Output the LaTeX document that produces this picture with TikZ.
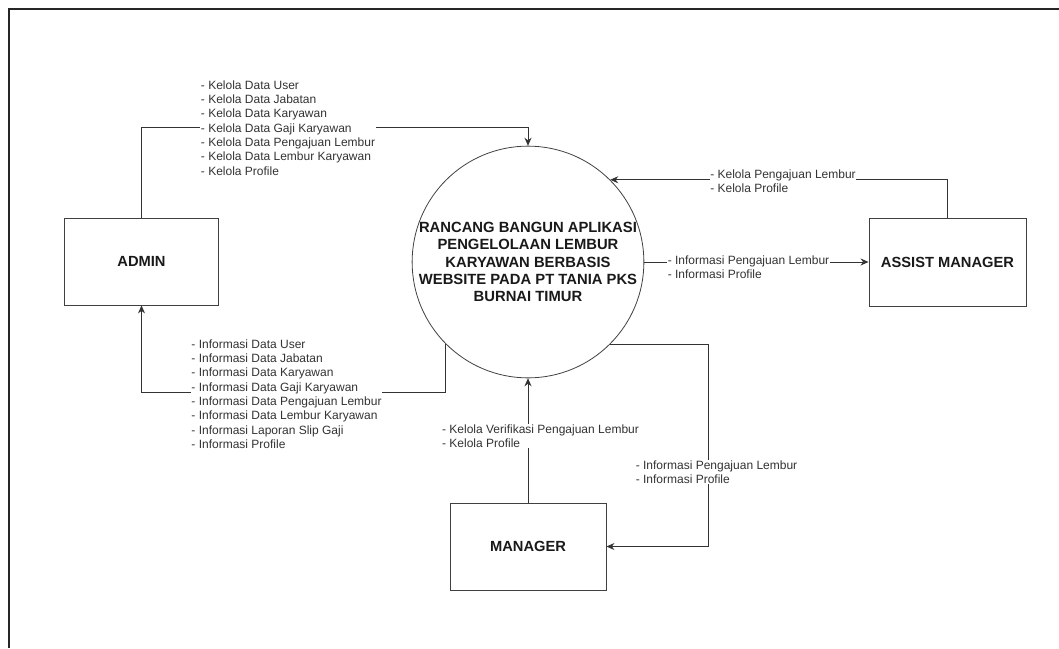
\documentclass[tikz,border=0pt]{standalone}
\usepackage{fontspec}
\setmainfont{Liberation Sans}
\usetikzlibrary{arrows.meta}
\begin{document}
\begin{tikzpicture}[x=1pt,y=-1pt,
  frameline/.style={draw=black!85, line width=1.4pt},
  line/.style={draw=black!80, line width=0.9pt},
  arr/.style={line, -{Stealth[length=8pt,width=7pt]}},
  ent/.style={draw=black!75, line width=0.9pt, minimum width=154pt, minimum height=87pt, inner sep=0pt, font=\fontsize{14.7}{17}\selectfont\bfseries, text=black!90},
  proc/.style={circle, draw=black!75, line width=0.8pt, minimum size=230pt, inner sep=0pt, align=center, font=\fontsize{14.8}{17.3}\selectfont\bfseries, text=black!90},
  lbl/.style={fill=white, inner sep=0.5pt, align=left, font=\fontsize{12}{14.3}\selectfont, text=black!80}]
\useasboundingbox (0,0) rectangle (1059,648);
\draw[frameline] (1059,9) -- (9,9) -- (9,648);

\node[ent] (admin) at (141.5,261.5) {ADMIN};
\node[ent, minimum width=157pt, minimum height=88pt] (am) at (947.5,262) {ASSIST MANAGER};
\node[ent, minimum width=156pt] (mgr) at (528,546.5) {MANAGER};
\node[proc] (c) at (528,262) {RANCANG BANGUN APLIKASI\\PENGELOLAAN LEMBUR\\KARYAWAN BERBASIS\\WEBSITE PADA PT TANIA PKS\\BURNAI TIMUR};

\draw[arr] (admin.north) -- ++(0,-90) -| (c.north);
\draw[arr] (c.south west) -- ++(0,48) -| (admin.south);
\draw[arr] (am.north) |- (c.north east);
\draw[arr] (c.east) -- (am.west);
\draw[arr] (mgr.north) -- (c.south);
\draw[arr] (c.south east) -- ++(98,0) |- (mgr.east);

\node[lbl] (l1) at (288,128) {- Kelola Data User\\- Kelola Data Jabatan\\- Kelola Data Karyawan\\- Kelola Data Gaji Karyawan\\- Kelola Data Pengajuan Lembur\\- Kelola Data Lembur Karyawan\\- Kelola Profile};
\node[lbl] (l2) at (286.5,394) {- Informasi Data User\\- Informasi Data Jabatan\\- Informasi Data Karyawan\\- Informasi Data Gaji Karyawan\\- Informasi Data Pengajuan Lembur\\- Informasi Data Lembur Karyawan\\- Informasi Laporan Slip Gaji\\- Informasi Profile};
\node[lbl] (l3) at (783,181) {- Kelola Pengajuan Lembur\\- Kelola Profile};
\node[lbl] (l4) at (748.5,267.5) {- Informasi Pengajuan Lembur\\- Informasi Profile};
\node[lbl] (l5) at (540.5,436) {- Kelola Verifikasi Pengajuan Lembur\\- Kelola Profile};
\node[lbl] (l6) at (716.5,472) {- Informasi Pengajuan Lembur\\- Informasi Profile};
\end{tikzpicture}
\end{document}
